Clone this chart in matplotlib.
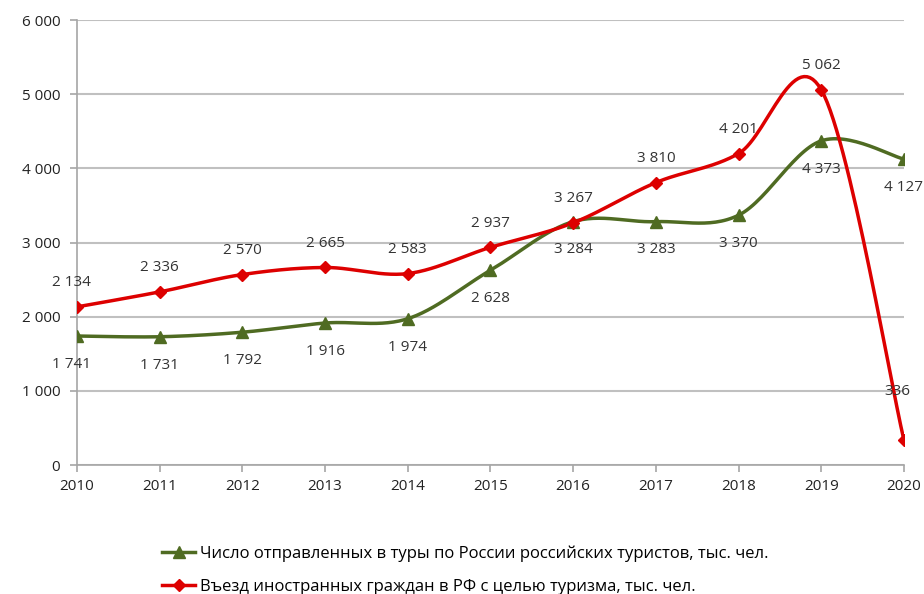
import numpy as np
import matplotlib
matplotlib.use("Agg")
from matplotlib import pyplot as plt

years = [2010, 2011, 2012, 2013, 2014, 2015, 2016, 2017, 2018, 2019, 2020]
domestic = [1741, 1731, 1792, 1916, 1974, 2628, 3284, 3283, 3370, 4373, 4127]
inbound = [2134, 2336, 2570, 2665, 2583, 2937, 3267, 3810, 4201, 5062, 336]

label_dom = "Число отправленных в туры по России российских туристов, тыс. чел."
label_in = "Въезд иностранных граждан в РФ с целью туризма, тыс. чел."

green = "#4F6B22"
red = "#DD0000"

plt.rcParams['font.family'] = ['Open Sans', 'DejaVu Sans']


def smooth(x, y, n=30):
    # Excel-like smoothed line (Catmull-Rom as cubic Bezier)
    x = np.asarray(x, float)
    y = np.asarray(y, float)
    px = np.concatenate([[x[0]], x, [x[-1]]])
    py = np.concatenate([[y[0]], y, [y[-1]]])
    xs, ys = [], []
    t = np.linspace(0, 1, n)
    for i in range(1, len(px) - 2):
        p0 = np.array([px[i], py[i]])
        p3 = np.array([px[i + 1], py[i + 1]])
        c1 = p0 + (np.array([px[i + 1], py[i + 1]]) - np.array([px[i - 1], py[i - 1]])) / 6
        c2 = p3 - (np.array([px[i + 2], py[i + 2]]) - np.array([px[i], py[i]])) / 6
        b = ((1 - t) ** 3)[:, None] * p0 + (3 * (1 - t) ** 2 * t)[:, None] * c1 \
            + (3 * (1 - t) * t ** 2)[:, None] * c2 + (t ** 3)[:, None] * p3
        xs.extend(b[:, 0])
        ys.extend(b[:, 1])
    return xs, ys


def fmt(v):
    return f"{v:,}".replace(",", " ")


fig = plt.figure(figsize=(9.24, 5.94), dpi=100)
ax = fig.add_axes([0.0833, 0.217, 0.895, 0.749])

xi = np.arange(len(years))

sx, sy = smooth(xi, domestic)
ax.plot(sx, sy, color=green, lw=2.5, zorder=3)
ax.plot(xi, domestic, ls="none", marker="^", ms=9, color=green, zorder=4)

sx, sy = smooth(xi, inbound)
ax.plot(sx, sy, color=red, lw=2.5, zorder=3)
ax.plot(xi, inbound, ls="none", marker="D", ms=6.5, color=red, zorder=4)

# data labels
for i, v in enumerate(domestic):
    dx = -4 if i == 0 else 0
    ax.annotate(fmt(v), (i, v), xytext=(dx, -15), textcoords="offset points",
                ha="center", va="top", fontsize=11, color="#333333")
for i, v in enumerate(inbound):
    dx, dy = 0, 12
    if i == 0:
        dx = -4
    if i == 10:
        dx, dy = -5, 30
    ax.annotate(fmt(v), (i, v), xytext=(dx, dy), textcoords="offset points",
                ha="center", va="bottom", fontsize=11, color="#333333")

ax.set_xlim(0, len(years) - 1)
ax.set_ylim(0, 6000)
ax.set_xticks(xi)
ax.set_xticklabels([str(y) for y in years])
ax.set_yticks(range(0, 6001, 1000))
ax.set_yticklabels([fmt(v) for v in range(0, 6001, 1000)])
ax.yaxis.grid(True, color="#C0C0C0", lw=1.5)
ax.set_axisbelow(True)
for s in ["top", "right"]:
    ax.spines[s].set_visible(False)
for s in ["left", "bottom"]:
    ax.spines[s].set_color("#A6A6A6")
    ax.spines[s].set_linewidth(1.2)
ax.tick_params(axis="both", colors="#A6A6A6", length=5, width=1.2,
               labelcolor="#222222", labelsize=11)
ax.tick_params(axis="x", pad=5)
ax.tick_params(axis="y", pad=7)

handles = [
    plt.Line2D([], [], color=green, lw=2.5, marker="^", ms=8),
    plt.Line2D([], [], color=red, lw=2.5, marker="D", ms=6),
]
fig.legend(handles, [label_dom, label_in], loc="upper left",
           bbox_to_anchor=(0.168, 0.093), frameon=False, fontsize=12,
           handlelength=2.0, handletextpad=0.3, labelspacing=1.0,
           borderaxespad=0)

fig.savefig("out.png", dpi=100)
